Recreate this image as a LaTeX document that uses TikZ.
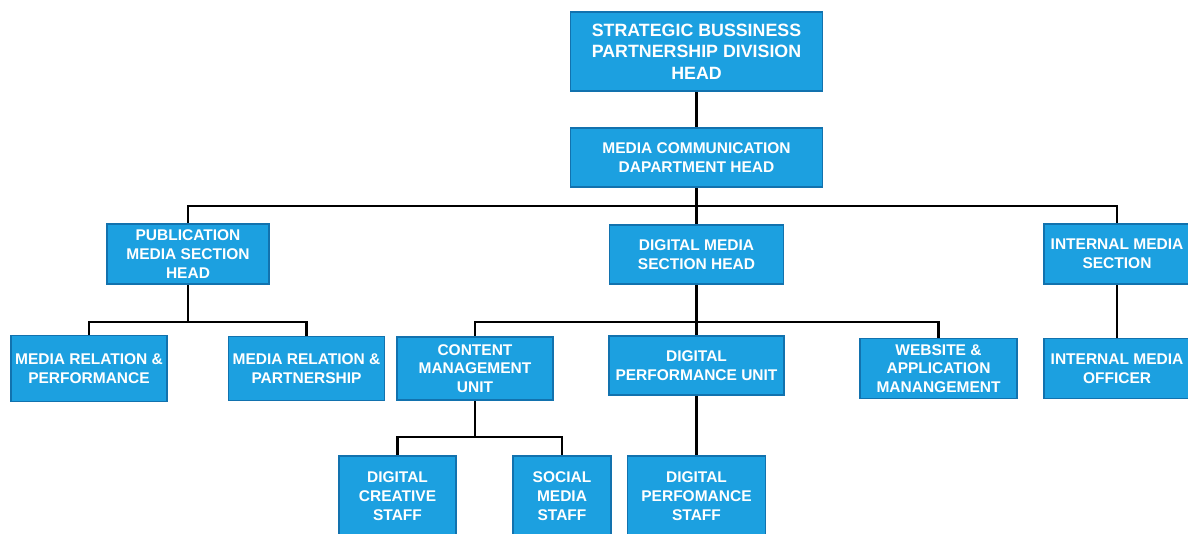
\documentclass[tikz,border=0pt]{standalone}
\usepackage{fontspec}
\setmainfont{Liberation Sans}
\usetikzlibrary{backgrounds}
\definecolor{boxfill}{HTML}{1CA0E0}
\definecolor{boxline}{HTML}{1272AE}
\tikzset{
  unit/.style={draw=boxline, line width=1.8pt, fill=boxfill, text=white,
    align=center, inner sep=0pt, font=\bfseries\fontsize{15.5}{18.8}\selectfont},
  topunit/.style={unit, font=\bfseries\fontsize{17.8}{21.5}\selectfont},
  link/.style={draw=black, line width=2.6pt}
}
\begin{document}
\begin{tikzpicture}[x=1pt, y=-1pt]
\useasboundingbox (0,0) rectangle (1188,533);
\clip (0,0) rectangle (1188,533);
% bus levels
\coordinate (busA) at (0,206);
\coordinate (busB) at (0,322);
\coordinate (busC) at (0,437);

% units
\node[topunit, minimum width=252pt, minimum height=79pt] (sbp) at (696.5,51.5)
  {STRATEGIC BUSSINESS\\PARTNERSHIP DIVISION\\HEAD};
\node[unit, minimum width=252pt, minimum height=59pt] (mcd) at (696.5,157.5)
  {MEDIA COMMUNICATION\\DAPARTMENT HEAD};
\node[unit, minimum width=162pt, minimum height=60pt] (pub) at (188,254)
  {PUBLICATION\\MEDIA SECTION\\HEAD};
\node[unit, minimum width=174pt, minimum height=59pt] (dms) at (696.5,254.5)
  {DIGITAL MEDIA\\SECTION HEAD};
\node[unit, minimum width=146pt, minimum height=60pt] (ims) at (1117,254)
  {INTERNAL MEDIA\\SECTION};
\node[unit, minimum width=156pt, minimum height=66pt] (mrp) at (89,368.5)
  {MEDIA RELATION \&\\PERFORMANCE};
\node[unit, minimum width=156pt, minimum height=64pt] (mrq) at (306.5,368.5)
  {MEDIA RELATION \&\\PARTNERSHIP};
\node[unit, minimum width=156pt, minimum height=63pt] (cmu) at (475,368.5)
  {CONTENT\\MANAGEMENT\\UNIT};
\node[unit, minimum width=175pt, minimum height=59pt] (dpu) at (696.5,365.5)
  {DIGITAL\\PERFORMANCE UNIT};
\node[unit, minimum width=157pt, minimum height=60pt] (wam) at (938.5,368.5)
  {WEBSITE \&\\APPLICATION\\MANANGEMENT};
\node[unit, minimum width=146pt, minimum height=60pt] (imo) at (1117,368.5)
  {INTERNAL MEDIA\\OFFICER};
\node[unit, minimum width=117pt, minimum height=80pt] (dcs) at (397.5,496)
  {DIGITAL\\CREATIVE\\STAFF};
\node[unit, minimum width=98pt, minimum height=80pt] (sms) at (562,496)
  {SOCIAL\\MEDIA\\STAFF};
\node[unit, minimum width=138pt, minimum height=80pt] (dps) at (696.5,496)
  {DIGITAL\\PERFOMANCE\\STAFF};

% reporting lines, kept behind the units
\begin{scope}[on background layer]
\draw[link] (sbp.south) -- (mcd.north);
\draw[link] (mcd.south) -- (dms.north);
\draw[link] (pub.north) |- (mcd.south |- busA) -| (ims.north);

\draw[link] (pub.south) -- (pub.south |- busB);
\draw[link] (mrp.north) |- (pub.south |- busB) -| (mrq.north);

\draw[link] (dms.south) -- (dpu.north);
\draw[link] (cmu.north) |- (dms.south |- busB) -| (wam.north);

\draw[link] (ims.south) -- (imo.north);

\draw[link] (cmu.south) -- (cmu.south |- busC);
\draw[link] (dcs.north) |- (cmu.south |- busC) -| (sms.north);

\draw[link] (dpu.south) -- (dps.north);
\end{scope}
\end{tikzpicture}
\end{document}
